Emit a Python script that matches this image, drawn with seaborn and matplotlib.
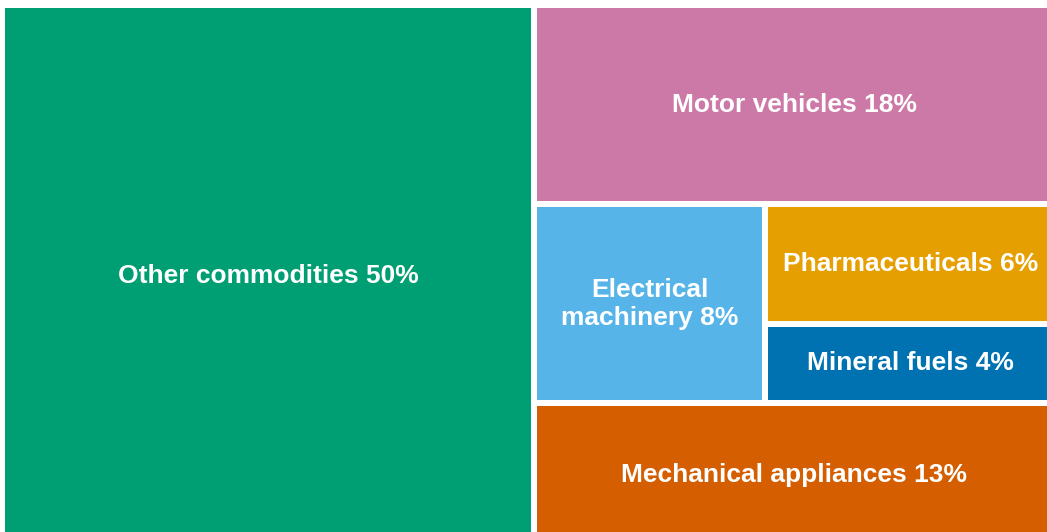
import matplotlib
matplotlib.use("Agg")
import matplotlib.pyplot as plt
import seaborn as sns

# Trade share by commodity (percent)
labels = [
    "Other commodities",
    "Motor vehicles",
    "Electrical\nmachinery",
    "Pharmaceuticals",
    "Mineral fuels",
    "Mechanical appliances",
]
shares = [50, 18, 8, 6, 4, 13]
colors = ["#009E73", "#CC79A7", "#56B4E9", "#E69F00", "#0072B2", "#D55E00"]

# nesting of tiles: splits alternate between columns and rows
tree = [0, [1, [2, [3, 4]], 5]]


def leaf_sum(node):
    if isinstance(node, int):
        return shares[node]
    return sum(leaf_sum(n) for n in node)


def layout(node, x, y, w, h, along_x, rects):
    """Slice-and-dice layout, sizes proportional to the shares."""
    if isinstance(node, int):
        rects[node] = (x, y, w, h)
        return
    total = leaf_sum(node)
    pos = x if along_x else y
    for child in node:
        frac = leaf_sum(child) / total
        if along_x:
            layout(child, pos, y, w * frac, h, not along_x, rects)
            pos += w * frac
        else:
            layout(child, x, pos, w, h * frac, not along_x, rects)
            pos += h * frac


sns.set_theme(style="white")
plt.rcParams["font.family"] = ["Liberation Sans", "DejaVu Sans"]

rects = {}
layout(tree, 2, 5, 1053, 542, True, rects)
pad = 3

fig = plt.figure(figsize=(10.47, 5.32), dpi=100)
ax = fig.add_axes([0, 0, 1, 1])

for i, (x, y, w, h) in rects.items():
    ax.bar(x + pad, h - 2 * pad, width=w - 2 * pad, bottom=y + pad,
           align="edge", color=colors[i], linewidth=0)
    ax.text(x + w / 2, y + h / 2, f"{labels[i]} {shares[i]}%",
            ha="center", va="center", color="white",
            fontsize=19, fontweight="bold", linespacing=1.22)

ax.set_xlim(0, 1047)
ax.set_ylim(532, 0)
ax.axis("off")

fig.savefig("out.png", dpi=100)
